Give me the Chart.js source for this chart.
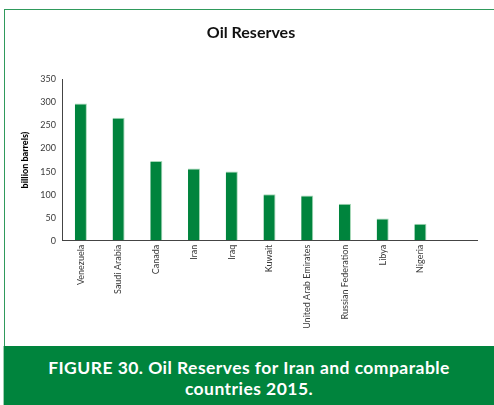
<!DOCTYPE html>
<html>
<head>
<meta charset="utf-8">
<script src="https://cdn.jsdelivr.net/npm/chart.js@4"></script>
<style>
  html, body { margin: 0; padding: 0; background: #fff; }
  body { width: 494px; height: 405px; position: relative; overflow: hidden; }
  #frame { position: absolute; left: 4px; top: 9px; width: 500px; height: 345px; border-left: 1.5px solid #2f9a5c; border-top: 1.5px solid #2f9a5c; box-sizing: border-box; }
  #wrap { position: absolute; left: 0; top: 0; width: 494px; height: 405px; }
  #caption { position: absolute; left: 3px; top: 346px; width: 500px; height: 59px; background: #00843D; color: #fff;
    font-family: Lato, "Open Sans", sans-serif; font-weight: bold; font-size: 17.5px; line-height: 21px; letter-spacing: 0.45px;
    box-sizing: border-box; padding-top: 11px; z-index: 2; border-left: 1px solid #9ccfb0; }
  #caption div { width: 496px; text-align: center; margin-left: -3px; }
</style>
</head>
<body>
<div id="frame"></div>
<div id="wrap"><canvas id="c" width="494" height="405"></canvas></div>
<div id="caption"><div>FIGURE 30. Oil Reserves for Iran and comparable<br>countries 2015.</div></div>
<script>
const categories = ["Venezuela", "Saudi Arabia", "Canada", "Iran", "Iraq", "Kuwait", "United Arab Emirates", "Russian Federation", "Libya", "Nigeria", ""];
const reserves = [298, 267, 173, 157, 150, 101, 98, 80, 48, 37, null];
const yTicks = [0, 50, 100, 150, 200, 250, 300, 350];
const chartTitle = "Oil Reserves";
const yTitle = "billion barrels)";

new Chart(document.getElementById('c'), {
  type: 'bar',
  data: {
    labels: categories,
    datasets: [{
      data: reserves,
      backgroundColor: '#00843D',
      borderColor: '#a6d8b8',
      borderWidth: { top: 1, right: 1, left: 0, bottom: 0 },
      borderSkipped: false,
      barPercentage: 0.32,
      categoryPercentage: 1.0
    }]
  },
  options: {
    responsive: false,
    animation: false,
    devicePixelRatio: 1,
    layout: { padding: { left: 25, right: 17, top: 0, bottom: 0 } },
    plugins: {
      legend: { display: false },
      tooltip: { enabled: false },
      title: {
        display: true,
        text: chartTitle,
        color: '#111',
        font: { family: 'Lato', size: 16, weight: 'bold', lineHeight: 1.2 },
        padding: { top: 23.5, bottom: 36.8 }
      }
    },
    scales: {
      x: {
        grid: { display: true, color: 'rgba(0,0,0,0)', drawOnChartArea: false, drawTicks: false },
        border: { display: true, color: '#444', width: 1 },
        ticks: {
          color: '#3a3a3a',
          font: { family: 'Lato', size: 9 },
          minRotation: 90, maxRotation: 90,
          padding: 4,
          autoSkip: false
        },
        afterFit(s) { s.height = 164.3; }
      },
      y: {
        min: 0, max: 350,
        afterBuildTicks(s) { s.ticks = yTicks.map(v => ({ value: v })); },
        grid: { display: true, color: 'rgba(0,0,0,0)', drawOnChartArea: false, drawTicks: false },
        border: { display: true, color: '#444', width: 1 },
        ticks: { color: '#3a3a3a', font: { family: 'Lato', size: 9 }, padding: 6 },
        title: {
          display: true, text: yTitle, color: '#000',
          font: { family: 'Lato', size: 9, weight: 900, lineHeight: 1.2 },
          padding: { top: -5, bottom: 0 }
        },
        afterFit(s) { s.width = 37; }
      }
    }
  }
});
</script>
</body>
</html>
